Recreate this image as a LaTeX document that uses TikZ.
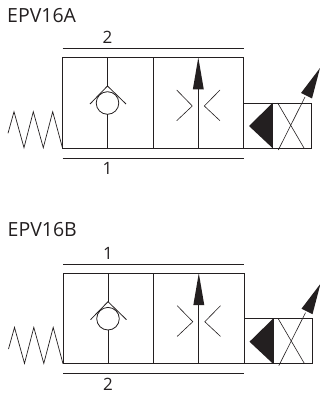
\documentclass[tikz,border=0pt]{standalone}
\usepackage{xcolor}
\usepackage{fontspec}
\setmainfont{Open Sans}
\usepackage{tikz}
\definecolor{ink}{HTML}{231F20}
\tikzset{>=stealth,
    symbol/.style={draw=ink,line width=0.8pt},
    blackhead/.style={fill=ink,draw=none},
    portlabel/.style={text=ink,font=\fontsize{17}{18}\selectfont,inner sep=0pt,anchor=base},
    typelabel/.style={text=ink,font=\fontsize{19.5}{20}\selectfont,inner sep=0pt,anchor=base west}}

\begin{document}
\begin{tikzpicture}[x=1pt,y=-1pt]
\useasboundingbox (0,0) rectangle (320,393);
\foreach \name/\dy/\dx/\ty/\upper/\lower in {A/0/0/22.5/2/1,B/215.7/0.5/21/1/2}{
\begin{scope}[shift={(\dx,\dy)}]
    % type and port labels
    \node[typelabel] (type\name) at (7,\ty) {EPV16\name};
    \node[portlabel] (upper\name) at (107.5,43.8) {\upper};
    \node[portlabel] (lower\name) at (107.5,174.8) {\lower};
    \draw[symbol] (62.5,48.5)--(243.5,48.5);
    \draw[symbol] (62.5,158)--(243.5,158);
    % envelopes
    \draw[symbol] (62.5,57.5) rectangle (243.5,148);
    \draw[symbol] (153,57.5)--(153,148);
    \draw[symbol] (243.5,103) rectangle (311.5,148);
    \draw[symbol] (272.5,103)--(272.5,148);
    % spring
    \draw[symbol,line width=0.7pt] (8,133.3)--(14,111.7)--(24,147.7)--(33.3,111.7)--(43.3,147.7)--(52.7,111.7)--(62.5,148);
    % check valve
    \draw[symbol] (107.5,57.5)--(107.5,86);
    \draw[symbol] (107.5,114.5)--(107.5,148);
    \draw[symbol] (107.5,103) circle (11.3);
    \draw[symbol] (90,104)--(107.5,86)--(126,104);
    % throttle and flow arrow
    \draw[symbol,line width=0.6pt] (176.7,90)--(192.3,106)--(176.7,120.7);
    \draw[symbol,line width=0.6pt] (220,90)--(204.3,106)--(220,120.7);
    \draw[symbol] (198.3,88)--(198.3,148);
    \fill[blackhead] (198.3,57.5)--(203.8,89.5)--(192.8,89.5)--cycle;
    % solenoid
    \fill[blackhead] (249,126)--(272.5,103)--(272.5,148)--cycle;
    \draw[symbol,line width=0.6pt] (277.7,103)--(304,148);
    \draw[symbol,line width=0.6pt] (278.3,150)--(305,97);
    \fill[blackhead] (320,68)--(312,98.5)--(301,93)--cycle;
\end{scope}
}
\end{tikzpicture}
\end{document}
